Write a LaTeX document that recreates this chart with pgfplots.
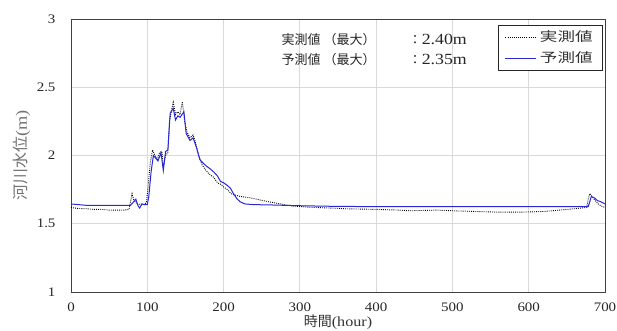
\documentclass[border=0pt]{standalone}
\usepackage{fontspec}
\setmainfont{Liberation Serif}[FakeStretch=1.15]
\newfontfamily\jp{Noto Sans CJK JP}
\newfontfamily\jpwide{Noto Sans CJK JP}[FakeStretch=1.35]
\usepackage{pgfplots}
\pgfplotsset{compat=1.18}
\definecolor{predblue}{RGB}{40,40,215}
\pgfplotstableread{
x y
0 1.645
10 1.640
20 1.635
40 1.635
60 1.635
78 1.635
82 1.660
85 1.680
88 1.630
90 1.615
93 1.645
96 1.640
100 1.640
102 1.700
105 1.880
108 2.000
111 1.980
114 1.960
118 2.020
121 1.890
124 2.030
127 2.040
130 2.310
134 2.346
137 2.260
140 2.290
143 2.280
148 2.320
151 2.160
156 2.110
160 2.130
165 2.050
169 1.970
174 1.940
178 1.920
183 1.900
187 1.880
192 1.850
196 1.810
200 1.800
205 1.780
209 1.760
213 1.720
218 1.680
222 1.660
228 1.645
240 1.640
260 1.638
300 1.632
340 1.628
400 1.625
500 1.625
600 1.625
678 1.625
680 1.660
682 1.700
686 1.690
690 1.670
695 1.660
700 1.645
}\pred
\pgfplotstableread{
x y
0 1.620
5 1.615
10 1.612
20 1.610
30 1.605
40 1.605
50 1.600
60 1.600
70 1.600
76 1.605
78 1.660
80 1.720
82 1.680
85 1.655
88 1.640
92 1.645
96 1.640
99 1.660
101 1.770
104 1.950
107 2.040
110 2.000
113 1.970
116 2.020
119 2.030
121 1.920
124 2.000
127 2.020
129 2.250
132 2.340
134 2.390
137 2.300
140 2.320
143 2.300
146 2.394
149 2.250
152 2.170
156 2.130
160 2.150
163 2.100
167 2.000
172 1.930
177 1.890
182 1.860
187 1.840
192 1.800
196 1.790
200 1.770
205 1.750
210 1.720
215 1.710
222 1.700
235 1.690
248 1.674
260 1.660
270 1.650
280 1.640
290 1.630
316 1.620
340 1.615
360 1.610
400 1.605
430 1.600
444 1.595
480 1.600
500 1.595
530 1.590
560 1.585
590 1.585
620 1.590
640 1.600
660 1.610
676 1.620
678 1.680
680 1.720
683 1.700
687 1.670
692 1.640
697 1.625
700 1.620
}\obs
\begin{document}
\fontsize{13}{15}\selectfont
\begin{tikzpicture}
\useasboundingbox (-71pt,-39pt) rectangle (546pt,292pt);
\begin{axis}[at={(0,0)},anchor=south west, scale only axis,
 width=534pt, height=273pt,
 xmin=0,xmax=700,ymin=1,ymax=3,
 xtick={0,100,...,700}, ytick={1,1.5,2,2.5,3},
 yticklabels={1,1.5,2,2.5,3},
 grid=major, grid style={draw=black!15, line width=0.8pt},
 axis line style={draw=black!75, line width=0.9pt},
 major tick length=0pt,
 /pgf/number format/assume math mode=true,
 tick label style={font=\fontsize{13}{15}\selectfont, text=black!85},
 xticklabel style={yshift=-6pt},
 yticklabel style={xshift=-11pt},
 ylabel={{\jp 河川水位}(m)},
 xlabel={{\jp 時間}(hour)},
 every axis y label/.style={at={(axis description cs:-0.092,0.5)}, rotate=90, anchor=center, font=\fontsize{16}{18}\selectfont, text=black!55},
 every axis x label/.style={at={(axis description cs:0.5,-0.112)}, anchor=center, font=\fontsize{14}{16}\selectfont, text=black!80},
 legend style={at={(0.9963,0.978)}, anchor=north east, draw=black!85, line width=0.8pt,
   font=\fontsize{13}{15}\selectfont, text=black!80, row sep=5pt, inner xsep=7pt, inner ysep=4pt,
   nodes={inner xsep=3pt, inner ysep=1.5pt}},
 legend cell align=left,
 legend image code/.code={\draw[#1] (0pt,0pt) -- (31pt,0pt);},
]
\addplot[black, line width=0.9pt, dash pattern=on 0.9pt off 1.2pt] table {\obs};
\addlegendentry{\jpwide 実測値}
\addplot[predblue, line width=1.0pt] table {\pred};
\addlegendentry{\jpwide 予測値}
\node[anchor=west, font=\fontsize{15.5}{17}\selectfont, text=black!85, inner sep=0pt] at (axis cs:276,2.846) {{\fontsize{13}{15}\jp 実測値}\hspace{3pt}{\fontsize{13}{15}\jp （最大）}\hspace{33pt}{\fontsize{13}{15}\jp ：}2.40m};
\node[anchor=west, font=\fontsize{15.5}{17}\selectfont, text=black!85, inner sep=0pt] at (axis cs:276,2.70) {{\fontsize{13}{15}\jp 予測値}\hspace{3pt}{\fontsize{13}{15}\jp （最大）}\hspace{33pt}{\fontsize{13}{15}\jp ：}2.35m};
\end{axis}
\end{tikzpicture}
\end{document}
